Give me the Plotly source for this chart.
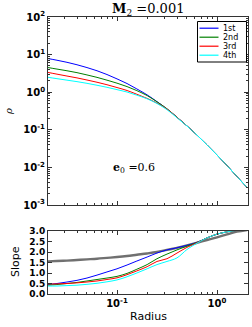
import plotly.graph_objects as go

# ---------------- data ----------------
radius = [0.02, 0.0251, 0.0316, 0.0398, 0.0501, 0.0631, 0.0794, 0.1, 0.126, 0.158,
          0.2, 0.251, 0.316, 0.398, 0.501, 0.631, 0.794, 1.0, 1.26, 1.58, 2.0]

rho_1st = [7.94, 7.08, 6.24, 5.37, 4.52, 3.72, 2.95, 2.26, 1.70, 1.22,
           0.851, 0.562, 0.359, 0.216, 0.127, 0.0724, 0.0398, 0.0214, 0.0112, 0.00575, 0.00292]
rho_2nd = [4.57, 4.12, 3.72, 3.31, 2.88, 2.48, 2.09, 1.74, 1.41, 1.10,
           0.813, 0.555, 0.363, 0.216, 0.127, 0.0724, 0.0398, 0.0214, 0.0112, 0.00575, 0.00292]
rho_3rd = [3.39, 3.02, 2.69, 2.40, 2.11, 1.84, 1.58, 1.33, 1.11, 0.881,
           0.684, 0.513, 0.355, 0.214, 0.127, 0.0724, 0.0398, 0.0214, 0.0112, 0.00575, 0.00292]
rho_4th = [2.51, 2.29, 2.09, 1.91, 1.72, 1.53, 1.35, 1.17, 1.01, 0.832,
           0.668, 0.501, 0.343, 0.209, 0.126, 0.0724, 0.0398, 0.0214, 0.0112, 0.00575, 0.00292]

slope_ref = [1.55, 1.57, 1.59, 1.62, 1.65, 1.68, 1.72, 1.76, 1.81, 1.87,
             1.93, 2.00, 2.10, 2.20, 2.31, 2.44, 2.57, 2.70, 2.84, 2.97, 3.05]
slope_1st = [0.45, 0.50, 0.57, 0.65, 0.76, 0.90, 1.05, 1.20, 1.38, 1.57,
             1.76, 1.95, 2.10, 2.20, 2.32, 2.46, 2.67, 2.85, 2.96, 3.03, 3.08]
slope_2nd = [0.42, 0.45, 0.50, 0.55, 0.62, 0.69, 0.76, 0.84, 0.98, 1.18,
             1.40, 1.68, 1.90, 2.10, 2.28, 2.45, 2.67, 2.85, 2.96, 3.03, 3.08]
slope_3rd = [0.48, 0.48, 0.50, 0.53, 0.57, 0.62, 0.69, 0.77, 0.92, 1.10,
             1.30, 1.55, 1.68, 1.95, 2.22, 2.44, 2.67, 2.85, 2.96, 3.03, 3.08]
slope_4th = [0.38, 0.38, 0.40, 0.42, 0.46, 0.51, 0.58, 0.67, 0.82, 1.00,
             1.20, 1.40, 1.55, 1.72, 2.12, 2.42, 2.67, 2.85, 2.96, 3.03, 3.08]

series_names = ["1st", "2nd", "3rd", "4th"]
series_colors = ["#0000ff", "#008000", "#ff0000", "#00ffff"]

rho_ticks = [100, 10, 1, 0.1, 0.01, 0.001]
rho_ticktext = ["10<sup>2</sup>", "10<sup>1</sup>", "10<sup>0</sup>",
                "10<sup>-1</sup>", "10<sup>-2</sup>", "10<sup>-3</sup>"]
r_ticks = [0.1, 1]
r_ticktext = ["10<sup>-1</sup>", "10<sup>0</sup>"]
slope_ticks = [0.0, 0.5, 1.0, 1.5, 2.0, 2.5, 3.0]
slope_ticktext = ["0.0", "0.5", "1.0", "1.5", "2.0", "2.5", "3.0"]

# ---------------- layout helpers (pixel -> paper) ----------------
W, H = 252, 327
L, R, T, B = 48, 4, 17, 33
PW, PH = W - L - R, H - T - B


def px(x):
    return (x - L) / PW


def py(y):
    return (H - B - y) / PH


fig = go.Figure()

rhos = [rho_1st, rho_2nd, rho_3rd, rho_4th]
slopes = [slope_1st, slope_2nd, slope_3rd, slope_4th]

for name, col, rv in zip(series_names, series_colors, rhos):
    fig.add_trace(go.Scatter(x=radius, y=rv, mode="lines", name=name,
                             line=dict(color=col, width=1, shape="spline"),
                             xaxis="x", yaxis="y", showlegend=False))

fig.add_trace(go.Scatter(x=radius, y=slope_ref, mode="lines", name="ref",
                         line=dict(color="#707070", width=2.4, shape="spline"),
                         xaxis="x2", yaxis="y2", showlegend=False))
for name, col, sv in zip(series_names, series_colors, slopes):
    fig.add_trace(go.Scatter(x=radius, y=sv, mode="lines", name=name,
                             line=dict(color=col, width=1, shape="spline"),
                             xaxis="x2", yaxis="y2", showlegend=False))

minor_x = [k * 10 ** e for e in (-2, -1, 0) for k in range(2, 10)]
minor_y = [k * 10 ** e for e in (-3, -2, -1, 0, 1) for k in range(2, 10)]

frame = "#333333"
tickfont_top = dict(family="DejaVu Sans", size=10, color="black")
tickfont_bot = dict(family="DejaVu Sans", size=9, color="black")

xrange_log = [-1.69, 0.31]

common_x = dict(type="log", range=xrange_log, showgrid=False, zeroline=False,
                showline=True, linecolor=frame, linewidth=1, mirror="ticks",
                ticks="inside", ticklen=4, tickcolor=frame, tickvals=r_ticks,
                minor=dict(tickvals=minor_x, ticks="inside", ticklen=2, tickcolor=frame))

fig.update_layout(
    width=W, height=H,
    margin=dict(l=L, r=R, t=T, b=B),
    paper_bgcolor="white", plot_bgcolor="white",
    showlegend=False,
    xaxis=dict(**common_x, domain=[0, 1], anchor="y", showticklabels=False),
    yaxis=dict(type="log", range=[-3, 2], domain=[py(205), 1], anchor="x",
               showgrid=False, zeroline=False, showline=True, linecolor=frame,
               linewidth=1, mirror="ticks", ticks="inside", ticklen=4,
               tickcolor=frame, tickvals=rho_ticks,
               ticktext=["<b>" + t + "</b>" for t in rho_ticktext],
               tickfont=tickfont_top,
               minor=dict(tickvals=minor_y, ticks="inside", ticklen=2, tickcolor=frame)),
    xaxis2=dict(**common_x, domain=[0, 1], anchor="y2",
                ticktext=["<b>" + t + "</b>" for t in r_ticktext],
                tickfont=tickfont_top),
    yaxis2=dict(range=[0, 3], domain=[0, py(231)], anchor="x2",
                showgrid=False, zeroline=False, showline=True, linecolor=frame,
                linewidth=1, mirror="ticks", ticks="inside", ticklen=4,
                tickcolor=frame, tickvals=slope_ticks,
                ticktext=["<b>" + t + "</b>" for t in slope_ticktext],
                tickfont=tickfont_bot),
)

ann = []
# title
ann.append(dict(x=px(148), y=py(9), xref="paper", yref="paper", showarrow=False,
                text="<b>M</b><sub>2</sub> =0.001", xanchor="center", yanchor="middle",
                font=dict(family="DejaVu Serif", size=13, color="black")))
# e0 annotation
ann.append(dict(x=px(134), y=py(168), xref="paper", yref="paper", showarrow=False,
                text="<b>e</b><sub>0</sub> =0.6", xanchor="center", yanchor="middle",
                font=dict(family="DejaVu Serif", size=11, color="black")))
# axis titles
ann.append(dict(x=px(8), y=py(112), xref="paper", yref="paper", showarrow=False,
                text="<i>ρ</i>", textangle=-90, xanchor="center", yanchor="middle",
                font=dict(family="DejaVu Serif", size=10, color="black")))
ann.append(dict(x=px(15), y=py(262), xref="paper", yref="paper", showarrow=False,
                text="Slope", textangle=-90, xanchor="center", yanchor="middle",
                font=dict(family="DejaVu Sans", size=11, color="black")))
ann.append(dict(x=px(148), y=py(316), xref="paper", yref="paper", showarrow=False,
                text="Radius", xanchor="center", yanchor="middle",
                font=dict(family="DejaVu Sans", size=11, color="black")))

# custom compact legend
shapes = [dict(type="rect", xref="paper", yref="paper",
               x0=px(197.5), x1=px(246.5), y0=py(62), y1=py(21.5),
               line=dict(color="black", width=1), fillcolor="white", layer="above")]
leg_y = [28.2, 37.2, 46.2, 55.2]
for name, col, ly in zip(series_names, series_colors, leg_y):
    shapes.append(dict(type="line", xref="paper", yref="paper",
                       x0=px(199.5), x1=px(218.5), y0=py(ly), y1=py(ly),
                       line=dict(color=col, width=1.2), layer="above"))
    ann.append(dict(x=px(221.5), y=py(ly), xref="paper", yref="paper", showarrow=False,
                    text=name, xanchor="left", yanchor="middle", borderpad=0,
                    font=dict(family="DejaVu Sans", size=8, color="black")))

fig.update_layout(annotations=ann, shapes=shapes)

fig.write_html("out.html", config={"displayModeBar": False},
               post_script="document.body.style.margin='0';document.body.style.overflow='hidden';")
